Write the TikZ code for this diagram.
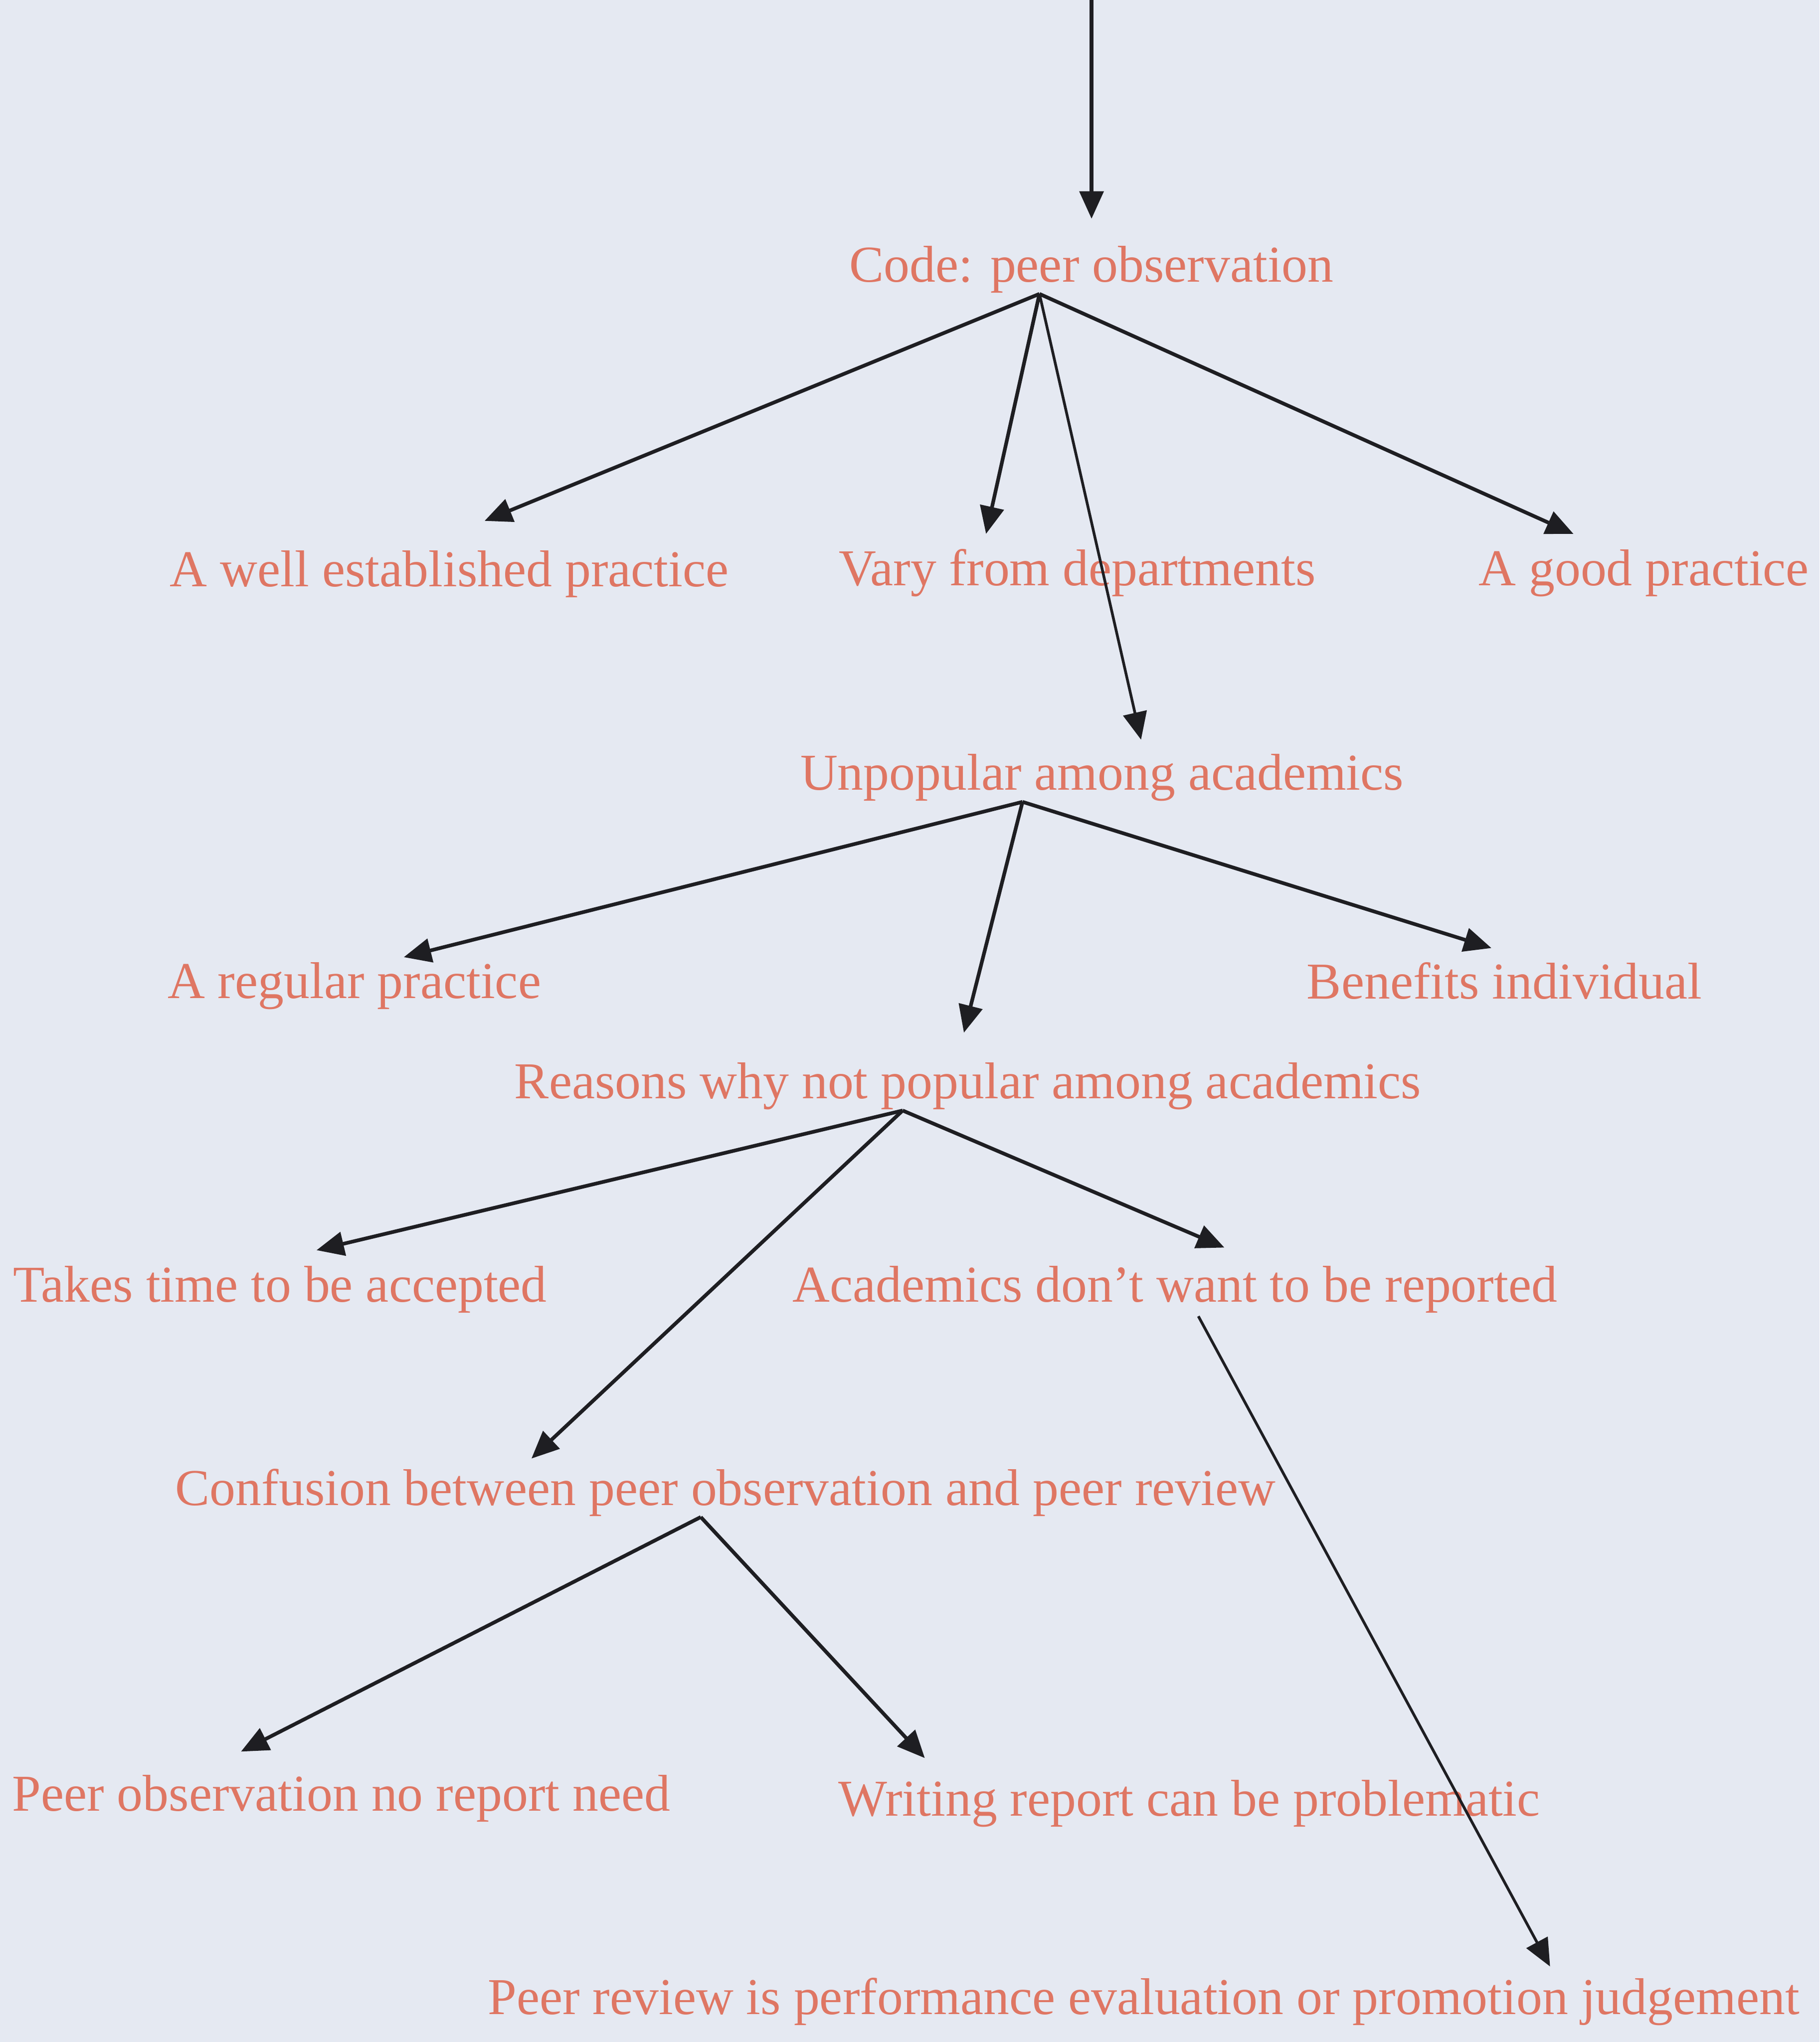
\documentclass[tikz,border=0pt]{standalone}
\usepackage{fontspec}
\setmainfont{Liberation Serif}
\usepackage{tikz}
\usetikzlibrary{arrows.meta,calc}
\definecolor{PaperBlue}{HTML}{E5E9F2}
\definecolor{CodeRed}{HTML}{DF7663}
\definecolor{InkGrey}{HTML}{1E1E22}

\tikzset{
  label/.style={font=\fontsize{11.3}{13}\selectfont,color=CodeRed,inner sep=0pt},
  arr/.style={-{Triangle[length=6pt,width=5.2pt]},color=InkGrey,line width=0.8pt},
  thinarr/.style={arr,line width=0.6pt}
}

\begin{document}
\begin{tikzpicture}
    \fill[PaperBlue] (0,0) rectangle (13.97,15.68);
    \useasboundingbox (0,0) rectangle (13.97,15.68);

    % codes and subcodes
    \node[label] (code) at (8.38,13.61) {Code: peer observation};
    \node[label] (est) at (3.45,11.27) {A well established practice};
    \node[label] (vary) at (8.27,11.28) {Vary from departments};
    \node[label] (good) at (12.62,11.28) {A good practice};
    \node[label] (unpop) at (8.46,9.71) {Unpopular among academics};
    \node[label] (regular) at (2.72,8.11) {A regular practice};
    \node[label] (benefit) at (11.55,8.15) {Benefits individual};
    \node[label] (reasons) at (7.43,7.34) {Reasons why not popular among academics};
    \node[label] (takes) at (2.15,5.78) {Takes time to be accepted};
    \node[label] (dontwant) at (9.02,5.78) {Academics don’t want to be reported};
    \node[label] (confusion) at (5.57,4.22) {Confusion between peer observation and peer review};
    \node[label] (noreport) at (2.62,1.87) {Peer observation no report need};
    \node[label] (writing) at (9.13,1.83) {Writing report can be problematic};
    \node[label] (review) at (8.78,0.31) {Peer review is performance evaluation or promotion judgement};

    % where the arrows leave the texts
    \coordinate (topin) at (8.38,15.68);
    \coordinate (codefan) at ([xshift=-4mm]code.south);
    \coordinate (unpopfan) at ([xshift=-6.1mm]unpop.south);
    \coordinate (reasonsfan) at ([xshift=-5mm]reasons.south);
    \coordinate (dontwantfan) at ([xshift=1.8mm,yshift=-0.2mm]dontwant.south);
    \coordinate (confusionfan) at ([xshift=-1.9mm]confusion.south);

    % where they point
    \coordinate (codein) at (8.38,14.00);
    \coordinate (estin) at (3.72,11.68);
    \coordinate (varyin) at (7.57,11.58);
    \coordinate (goodin) at (12.08,11.58);
    \coordinate (unpopin) at (8.76,10.00);
    \coordinate (regularin) at (3.10,8.33);
    \coordinate (reasonsin) at (7.40,7.75);
    \coordinate (benefitin) at (11.45,8.40);
    \coordinate (takesin) at (2.43,6.08);
    \coordinate (confusionin) at (4.08,4.48);
    \coordinate (dontwantin) at (9.40,6.10);
    \coordinate (reviewin) at (11.90,0.58);
    \coordinate (noreportin) at (1.85,2.23);
    \coordinate (writingin) at (7.10,2.18);

    \draw[arr] (topin) -- (codein);
    \draw[arr] (codefan) -- (estin);
    \draw[arr] (codefan) -- (varyin);
    \draw[arr] (codefan) -- (goodin);
    \draw[thinarr] (codefan) -- (unpopin);

    \draw[arr] (unpopfan) -- (regularin);
    \draw[arr] (unpopfan) -- (reasonsin);
    \draw[arr] (unpopfan) -- (benefitin);

    \draw[arr] (reasonsfan) -- (takesin);
    \draw[arr] (reasonsfan) -- (confusionin);
    \draw[arr] (reasonsfan) -- (dontwantin);

    \draw[thinarr] (dontwantfan) -- (reviewin);

    \draw[arr] (confusionfan) -- (noreportin);
    \draw[arr] (confusionfan) -- (writingin);
\end{tikzpicture}
\end{document}
